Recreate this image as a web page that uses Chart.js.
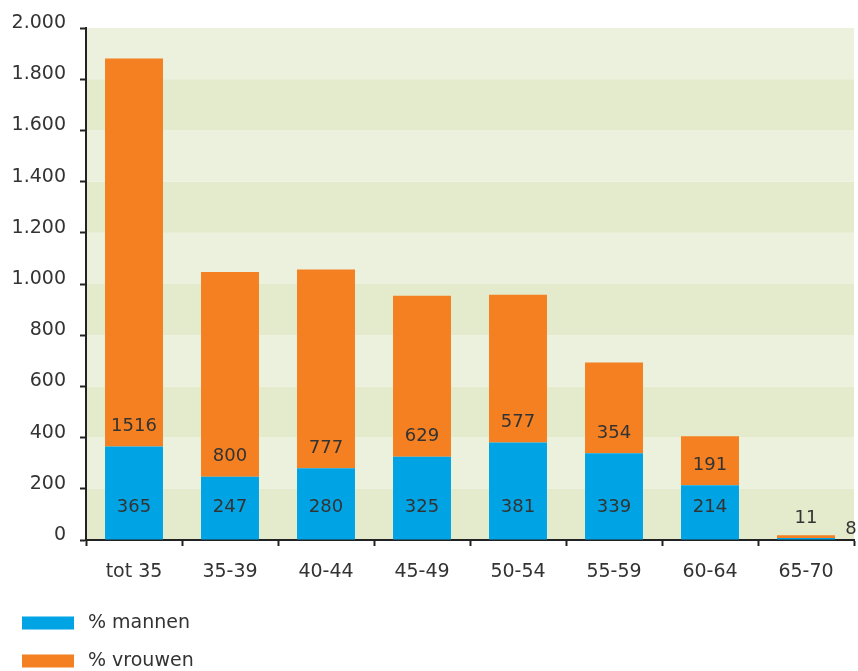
<!DOCTYPE html>
<html>
<head>
<meta charset="utf-8">
<script src="https://cdn.jsdelivr.net/npm/chart.js@4/dist/chart.umd.min.js"></script>
<style>
html,body{margin:0;padding:0;background:#fff;}
#wrap{width:858px;height:671px;position:relative;}
</style>
</head>
<body>
<div id="wrap"><canvas id="c" width="858" height="671"></canvas></div>
<script>
const categories = ["tot 35","35-39","40-44","45-49","50-54","55-59","60-64","65-70"];
const mannen = [365,247,280,325,381,339,214,8];
const vrouwen = [1516,800,777,629,577,354,191,11];
const seriesNames = ["% mannen","% vrouwen"];
const yTicks = [0,200,400,600,800,1000,1200,1400,1600,1800,2000];

const BLUE = "#00a4e4", ORANGE = "#f48021", TXT = "#333333";
const FONT = "DejaVu Sans, Verdana, sans-serif";

function fmt(v){ return String(v).replace(/\B(?=(\d{3})+(?!\d))/g, "."); }

const bandsPlugin = {
  id:"bands",
  beforeDraw(chart){
    const {ctx, chartArea:a, scales:{y}} = chart;
    ctx.save();
    for(let i=0;i<yTicks.length-1;i++){
      const y0 = y.getPixelForValue(yTicks[i]);
      const y1 = y.getPixelForValue(yTicks[i+1]);
      ctx.fillStyle = (i%2===0) ? "#e4ebcc" : "#ecf1dd";
      ctx.fillRect(a.left, y1, a.right-a.left, y0-y1);
    }
    ctx.restore();
  }
};

const labelsPlugin = {
  id:"vlabels",
  afterDatasetsDraw(chart){
    const {ctx, scales:{y}} = chart;
    const m0 = chart.getDatasetMeta(0);
    const base = y.getPixelForValue(0);
    ctx.save();
    ctx.font = "18px " + FONT;
    ctx.fillStyle = TXT;
    ctx.textAlign = "center";
    ctx.textBaseline = "middle";
    categories.forEach((c,i)=>{
      const b = m0.data[i];
      const topBlue = y.getPixelForValue(mannen[i]);
      if (base - topBlue > 40) {
        ctx.fillText(String(mannen[i]), b.x, base - 33);
      } else {
        ctx.fillText(String(mannen[i]), b.x + b.width/2 + 16, base - 11);
      }
      ctx.fillText(String(vrouwen[i]), b.x, topBlue - 20);
    });
    ctx.restore();
  }
};

const legendPlugin = {
  id:"customLegend",
  afterDraw(chart){
    const ctx = chart.ctx;
    ctx.save();
    ctx.font = "19px " + FONT;
    ctx.textBaseline = "middle";
    ctx.textAlign = "left";
    const rows = [[BLUE, seriesNames[0], 623],[ORANGE, seriesNames[1], 661]];
    rows.forEach(([col, name, cy])=>{
      ctx.fillStyle = col;
      ctx.fillRect(22, cy-6.5, 52, 13);
      ctx.fillStyle = TXT;
      ctx.fillText(name, 88, cy);
    });
    ctx.restore();
  }
};

new Chart(document.getElementById("c"), {
  type:"bar",
  data:{
    labels: categories,
    datasets:[
      {label: seriesNames[0], data: mannen, backgroundColor: BLUE, borderWidth:0},
      {label: seriesNames[1], data: vrouwen, backgroundColor: ORANGE, borderWidth:0}
    ]
  },
  options:{
    responsive:false,
    animation:false,
    devicePixelRatio:1,
    layout:{padding:{top:28,right:4,bottom:86,left:0}},
    datasets:{bar:{categoryPercentage:1, barPercentage:0.604}},
    plugins:{legend:{display:false}, tooltip:{enabled:false}},
    scales:{
      x:{
        stacked:true,
        offset:true,
        grid:{display:true, drawOnChartArea:false, drawTicks:true, tickLength:6, tickColor:"#222", tickWidth:2, offset:true},
        border:{display:true, color:"#222", width:2},
        ticks:{color:TXT, font:{family:FONT, size:19}, padding:15, maxRotation:0},
        afterFit(s){ s.height = 45; }
      },
      y:{
        stacked:true,
        min:0, max:2000,
        afterBuildTicks(s){ s.ticks = yTicks.map(v=>({value:v})); },
        grid:{display:true, drawOnChartArea:false, drawTicks:true, tickLength:6, tickColor:"#222", tickWidth:2},
        border:{display:true, color:"#222", width:2},
        ticks:{color:TXT, font:{family:FONT, size:19}, padding:14, labelOffset:-5, callback:(v)=>fmt(v)},
        afterFit(s){ s.width = 86; }
      }
    }
  },
  plugins:[bandsPlugin, labelsPlugin, legendPlugin]
});
</script>
</body>
</html>
